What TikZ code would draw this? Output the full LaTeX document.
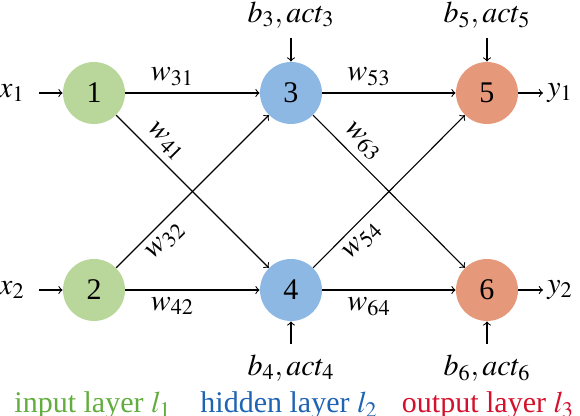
\documentclass[tikz,border=0pt]{standalone}
\usepackage{mathptmx}
\usepackage[no-math]{fontspec}
\setmainfont{Liberation Serif}
\definecolor{ingreen}{HTML}{B9D79B}
\definecolor{hidblue}{HTML}{8DB8E3}
\definecolor{outred}{HTML}{E5987A}
\definecolor{txtgreen}{HTML}{62AD3E}
\definecolor{txtblue}{HTML}{1F63B3}
\definecolor{txtred}{HTML}{D4102C}
\begin{document}
\begin{tikzpicture}[x=0.5pt,y=-0.5pt,
  font=\fontsize{15}{18}\selectfont,
  neuron/.style={circle,minimum size=31pt,inner sep=0pt},
  conn/.style={->,line width=0.55pt},
  lbl/.style={inner sep=2pt}]
\useasboundingbox (0,0) rectangle (580,416);
% neurons
\node[neuron,fill=ingreen] (n1) at (94,93) {1};
\node[neuron,fill=ingreen] (n2) at (94,290) {2};
\node[neuron,fill=hidblue] (n3) at (291,93) {3};
\node[neuron,fill=hidblue] (n4) at (291,290) {4};
\node[neuron,fill=outred] (n5) at (487,93) {5};
\node[neuron,fill=outred] (n6) at (487,290) {6};
% inputs
\node[lbl,anchor=east] (x1) at (29,93) {$x_1$};
\node[lbl,anchor=east] (x2) at (29,290) {$x_2$};
\coordinate (i1) at (39,93);
\coordinate (i2) at (39,290);
\draw[conn] (i1) -- (n1);
\draw[conn] (i2) -- (n2);
% outputs
\node[lbl,anchor=west] (y1) at (543,93) {$y_1$};
\node[lbl,anchor=west] (y2) at (543,290) {$y_2$};
\draw[conn] (n5) -- (y1);
\draw[conn] (n6) -- (y2);
% weights layer 1->2
\draw[conn] (n1) -- node[pos=0.35,above] {$w_{31}$} (n3);
\draw[conn] (n1) -- node[pos=0.25,sloped,above] {$w_{41}$} (n4);
\draw[conn] (n2) -- node[pos=0.25,sloped,below] {$w_{32}$} (n3);
\draw[conn] (n2) -- node[pos=0.35,below] {$w_{42}$} (n4);
% weights layer 2->3
\draw[conn] (n3) -- node[pos=0.35,above] {$w_{53}$} (n5);
\draw[conn] (n3) -- node[pos=0.25,sloped,above] {$w_{63}$} (n6);
\draw[conn] (n4) -- node[pos=0.25,sloped,below] {$w_{54}$} (n5);
\draw[conn] (n4) -- node[pos=0.35,below] {$w_{64}$} (n6);
% biases
\node[lbl] (b3) at (291,15) {$b_3, act_3$};
\node[lbl] (b5) at (487,15) {$b_5, act_5$};
\node[lbl] (b4) at (291,368) {$b_4, act_4$};
\node[lbl] (b6) at (487,368) {$b_6, act_6$};
\coordinate (t3) at (291,38);
\coordinate (t5) at (487,38);
\coordinate (t4) at (291,344);
\coordinate (t6) at (487,344);
\draw[conn] (t3) -- (n3);
\draw[conn] (t5) -- (n5);
\draw[conn] (t4) -- (n4);
\draw[conn] (t6) -- (n6);
% layer labels
\node[anchor=base,text=txtgreen] (L1) at (93,413) {input layer $l_1$};
\node[anchor=base,text=txtblue] (L2) at (289,413) {hidden layer $l_2$};
\node[anchor=base,text=txtred] (L3) at (488,413) {output layer $l_3$};
\end{tikzpicture}
\end{document}
